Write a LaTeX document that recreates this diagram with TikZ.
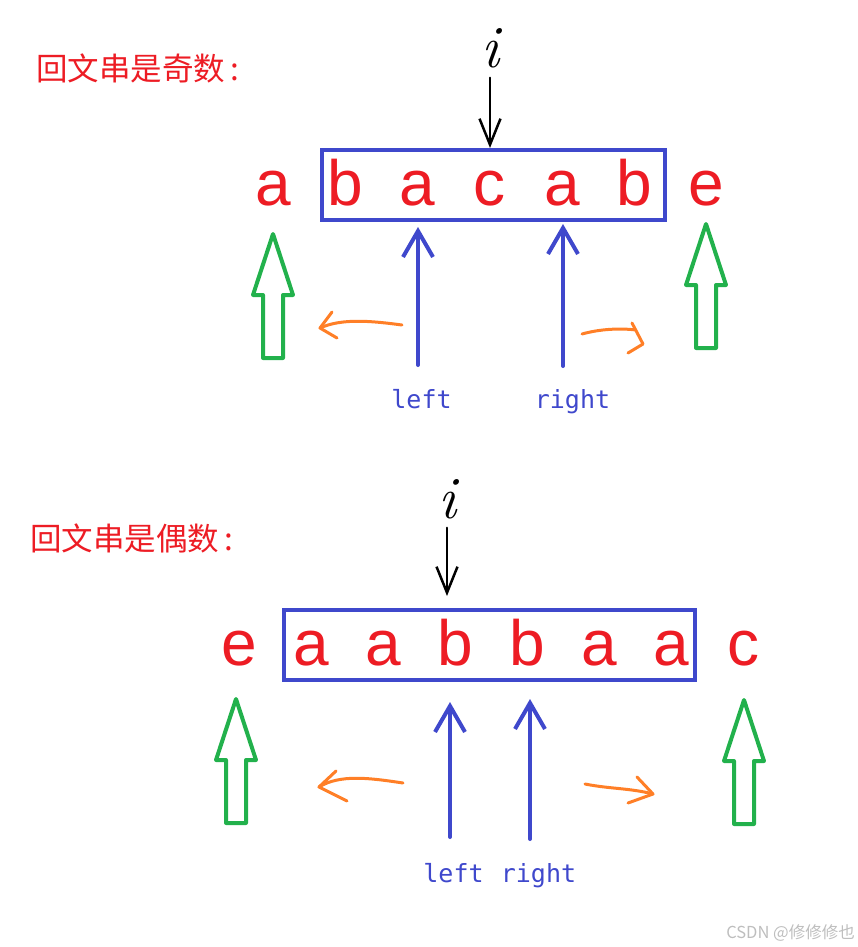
\documentclass[tikz,border=0pt]{standalone}
\usepackage{fontspec}
\usetikzlibrary{arrows.meta, positioning}
\newfontfamily\zhfont{Noto Sans CJK SC}
\newfontfamily\chrfont{Liberation Sans}
\newfontfamily\lblfont{DejaVu Sans Mono}
\definecolor{pred}{RGB}{237,28,36}
\definecolor{pblue}{RGB}{63,72,204}
\definecolor{pgreen}{RGB}{34,177,76}
\definecolor{porange}{RGB}{255,127,39}
\definecolor{wmgray}{RGB}{190,190,190}
% hollow green up-arrow, argument is the tip
\newcommand{\hollowup}[1]{\draw[hollow] (#1) -- ++(20,61) -- ++(-10,0) -- ++(0,63) -- ++(-20,0) -- ++(0,-63) -- ++(-10,0) -- cycle;}

\begin{document}
\begin{tikzpicture}[x=1pt, y=-1pt,
        chr/.style={font=\chrfont\fontsize{64}{64}\selectfont, text=pred, anchor=base, inner sep=0pt},
        heading/.style={font=\zhfont\fontsize{31.5}{31.5}\selectfont, text=pred, anchor=west, inner sep=0pt},
        idx/.style={font=\fontsize{60}{60}\selectfont\itshape, anchor=base, inner sep=0pt},
        lbl/.style={font=\lblfont\fontsize{25}{25}\selectfont, text=pblue, anchor=base, inner sep=0pt},
        win/.style={draw=pblue, line width=4pt, minimum height=70pt, inner sep=0pt},
        ptr/.style={draw=pblue, line width=4pt, line cap=round, -{Straight Barb[length=26pt, width=30pt]}},
        iarrow/.style={line width=2.5pt, line cap=round, -{Straight Barb[length=26pt, width=21pt]}},
        swipe/.style={draw=porange, line width=3pt, line cap=round, line join=round},
        hollow/.style={draw=pgreen, line width=4pt, line join=round}]
    \useasboundingbox (0,0) rectangle (858,947);

    % odd length
    \node[heading] (odd) at (36,68) {回文串是奇数\hspace{5pt}:};
    \node[win, minimum width=343pt] (win1) at (493.5,185) {};
    \foreach \ch [count=\k] in {a,b,a,c,a,b,e}
        \node[chr] (t\k) at ({273+72.2*(\k-1)},205) {\ch};
    \node[idx] (i1) at (490,68) {i};
    \draw[iarrow, shorten <=9pt] (i1.south) -- (i1.south |- win1.north);
    \coordinate (p1) at (418,365);
    \coordinate (p2) at (563,366);
    \draw[ptr, shorten >=5pt] (p1) -- (p1 |- win1.south);
    \draw[ptr, shorten >=2pt] (p2) -- (p2 |- win1.south);
    \node[lbl] (lft1) at (421.5,408) {left};
    \node[lbl] (rgt1) at (572.5,408) {right};
    \hollowup{273,234}
    \hollowup{706,224}
    \coordinate (o1s) at (402,325);
    \coordinate (o1t) at (320,328);
    \draw[swipe] (o1s) .. controls (372,321) and (342,318) .. (o1t);
    \draw[swipe] (o1t) ++(12,-16) -- (o1t) -- ++(17,10);
    \coordinate (o2s) at (582,334);
    \coordinate (o2t) at (643,344);
    \draw[swipe] (o2s) .. controls (600,329) and (620,328) .. (636,330);
    \draw[swipe] (o2t) ++(-11,-21) -- (o2t) -- ++(-15,9);

    % even length
    \node[heading] (even) at (30,538) {回文串是偶数\hspace{5pt}:};
    \node[win, minimum width=411pt] (win2) at (489.5,645) {};
    \foreach \ch [count=\k] in {e,a,a,b,b,a,a,c}
        \node[chr] (b\k) at ({239+72*(\k-1)},665) {\ch};
    \node[idx] (i2) at (447,518) {i};
    \draw[iarrow, shorten <=9pt, shorten >=12pt] (i2.south) -- (i2.south |- win2.north);
    \coordinate (p3) at (450,837);
    \coordinate (p4) at (530,839);
    \draw[ptr, shorten >=20pt] (p3) -- (p3 |- win2.south);
    \draw[ptr, shorten >=17pt] (p4) -- (p4 |- win2.south);
    \node[lbl] (lft2) at (453.5,882) {left};
    \node[lbl] (rgt2) at (538.5,882) {right};
    \hollowup{236,699}
    \hollowup{744,700}
    \coordinate (o3s) at (403,783);
    \coordinate (o3t) at (319,787);
    \draw[swipe] (o3s) .. controls (370,778) and (340,774) .. (o3t);
    \draw[swipe] (o3t) ++(17,-16) -- (o3t) -- ++(28,14);
    \coordinate (o4s) at (585,784);
    \coordinate (o4t) at (653,794);
    \draw[swipe] (o4s) .. controls (610,789) and (630,788) .. (o4t);
    \draw[swipe] (o4t) ++(-16,-17) -- (o4t) -- ++(-25,9);

    \node[font=\zhfont\fontsize{16.5}{16.5}\selectfont, text=wmgray, anchor=east, inner sep=0pt] (mark) at (855,933) {CSDN @修修修也};
\end{tikzpicture}
\end{document}
